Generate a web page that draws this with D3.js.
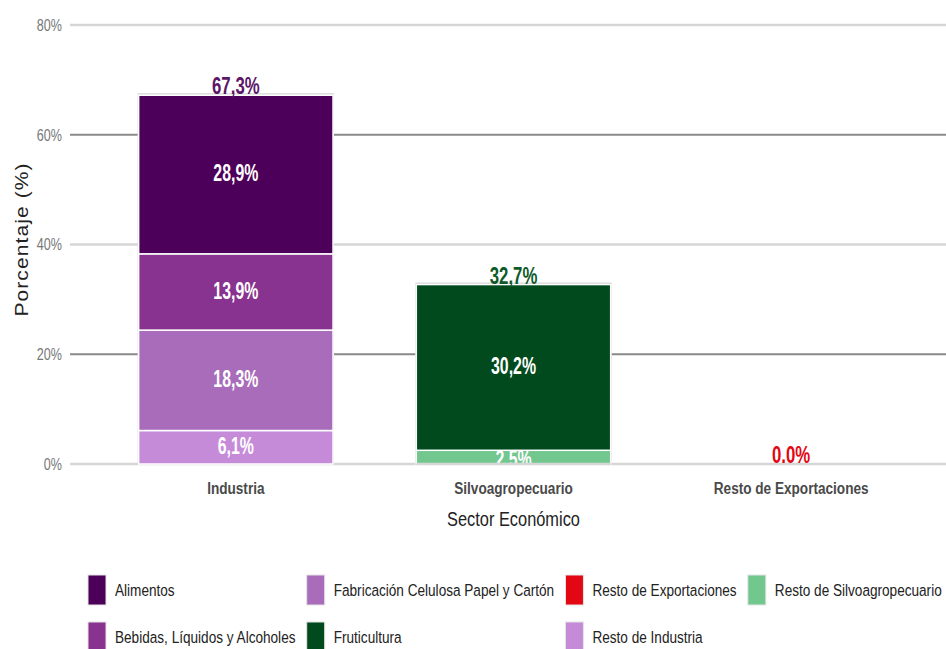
<!DOCTYPE html>
<html>
<head>
<meta charset="utf-8">
<script src="https://cdn.jsdelivr.net/npm/d3@7"></script>
<style>
	body { margin: 0; background: #fff; }
	svg { display: block; font-family: 'Liberation Sans', Arial, sans-serif; }
</style>
</head>
<body>
<div id="chart"></div>
<script>
// datos
const sectores = ['Industria', 'Silvoagropecuario', 'Resto de Exportaciones'];
const subsectores = ['Alimentos', 'Bebidas, Líquidos y Alcoholes', 'Fabricación Celulosa Papel y Cartón',
	'Fruticultura', 'Resto de Exportaciones', 'Resto de Industria', 'Resto de Silvoagropecuario'];
// orden de apilado (de abajo hacia arriba) por sector
const pilaIndustria = ['Resto de Industria', 'Fabricación Celulosa Papel y Cartón', 'Bebidas, Líquidos y Alcoholes', 'Alimentos'];
const valoresIndustria = [6.1, 18.3, 13.9, 28.9];
const pilaSilvo = ['Resto de Silvoagropecuario', 'Fruticultura'];
const valoresSilvo = [2.5, 30.2];
const pilaResto = ['Resto de Exportaciones'];
const valoresResto = [0.0];
const totales = [67.3, 32.7, 0.0];
const etiquetasTotales = ['67,3%', '32,7%', '0.0%'];
const yTicks = [0, 20, 40, 60, 80];

const colores = {
	'Alimentos': '#4d005a',
	'Bebidas, Líquidos y Alcoholes': '#87338f',
	'Fabricación Celulosa Papel y Cartón': '#a86cba',
	'Fruticultura': '#004a1d',
	'Resto de Exportaciones': '#e30613',
	'Resto de Industria': '#c58bd9',
	'Resto de Silvoagropecuario': '#72c78f'
};
const coloresTotales = ['#5b1768', '#0f5a2a', '#e30613'];

const width = 946, height = 649;

const svg = d3.select('#chart').append('svg')
	.attr('width', width).attr('height', height);

// el gráfico original usa letra angosta: se comprime cada texto a lo ancho
function angosto(sel, k) {
	sel.each(function () {
		const t = d3.select(this);
		const px = +t.attr('x') || 0, py = +t.attr('y') || 0;
		t.attr('x', 0).attr('y', 0)
			.attr('transform', `translate(${px}, ${py}) scale(${k}, 1)`);
	});
	return sel;
}

const x = d3.scaleBand()
	.domain(sectores)
	.range([97, 930])
	.paddingInner(0.3)
	.paddingOuter(0.15);

const y = d3.scaleLinear()
	.domain([0, 80])
	.range([464, 25]);

// grilla
svg.append('g').selectAll('line')
	.data(yTicks)
	.join('line')
	.attr('x1', 70).attr('x2', width)
	.attr('y1', d => y(d)).attr('y2', d => y(d))
	.attr('stroke', d => (d === 20 || d === 60) ? '#8a8a8a' : '#d6d6d6')
	.attr('stroke-width', d => (d === 20 || d === 60) ? 2 : 2.5);

// eje y
svg.append('g').selectAll('text')
	.data(yTicks)
	.join('text')
	.attr('x', 62).attr('y', d => y(d))
	.attr('dy', '0.35em')
	.attr('text-anchor', 'end')
	.attr('font-size', 17)
	.attr('fill', '#777')
	.text(d => d + '%')
	.call(angosto, 0.74);

svg.append('text')
	.attr('transform', `translate(28, ${y(40) - 5}) rotate(-90) scale(1, 0.85)`)
	.attr('text-anchor', 'middle')
	.attr('font-size', 21)
	.attr('letter-spacing', 1.1)
	.attr('fill', '#222')
	.text('Porcentaje (%)');

// barras
const pilas = [
	{ sector: sectores[0], claves: pilaIndustria, valores: valoresIndustria },
	{ sector: sectores[1], claves: pilaSilvo, valores: valoresSilvo },
	{ sector: sectores[2], claves: pilaResto, valores: valoresResto }
];

const barras = svg.append('g');
pilas.forEach((p, i) => {
	let acumulado = 0;
	const segmentos = p.claves.map((k, j) => {
		const s = { clave: k, v0: acumulado, v1: acumulado + p.valores[j], valor: p.valores[j] };
		acumulado += p.valores[j];
		return s;
	});
	const g = barras.append('g');
	if (acumulado > 0) {
		g.append('rect')
			.attr('x', x(p.sector) - 1)
			.attr('y', y(acumulado) - 2)
			.attr('width', x.bandwidth() + 2)
			.attr('height', y(0) - y(acumulado) + 2)
			.attr('fill', '#d6d6d6');
	}
	g.selectAll('rect.seg')
		.data(segmentos.filter(s => s.valor > 0))
		.join('rect')
		.attr('class', 'seg')
		.attr('x', x(p.sector))
		.attr('y', s => y(s.v1))
		.attr('width', x.bandwidth())
		.attr('height', s => y(s.v0) - y(s.v1))
		.attr('fill', s => colores[s.clave])
		.attr('stroke', '#fff')
		.attr('stroke-width', 1.5);
	g.selectAll('text.seg')
		.data(segmentos.filter(s => s.valor > 0))
		.join('text')
		.attr('class', 'seg')
		.attr('x', x(p.sector) + x.bandwidth() / 2)
		.attr('y', s => s.valor < 4 ? y(s.v0) + 3 : (y(s.v0) + y(s.v1)) / 2)
		.attr('dy', s => s.valor < 4 ? '0' : '0.3em')
		.attr('text-anchor', 'middle')
		.attr('font-size', 23)
		.attr('font-weight', 'bold')
		.attr('fill', '#fff')
		.text(s => s.valor.toFixed(1).replace('.', ',') + '%')
		.call(angosto, 0.69);

	g.append('text')
		.attr('x', x(p.sector) + x.bandwidth() / 2)
		.attr('y', y(totales[i]) - 1)
		.attr('text-anchor', 'middle')
		.attr('font-size', 24)
		.attr('font-weight', 'bold')
		.attr('fill', coloresTotales[i])
		.text(etiquetasTotales[i])
		.call(angosto, 0.7);
});

// la etiqueta 2,5% queda cortada por el eje
svg.append('rect')
	.attr('x', x(sectores[1])).attr('y', y(0) + 1)
	.attr('width', x.bandwidth()).attr('height', 10)
	.attr('fill', '#fff');
svg.append('line')
	.attr('x1', x(sectores[1])).attr('x2', x(sectores[1]) + x.bandwidth())
	.attr('y1', y(0)).attr('y2', y(0))
	.attr('stroke', '#d6d6d6').attr('stroke-width', 2.5);

// eje x
svg.append('g').selectAll('text')
	.data(sectores)
	.join('text')
	.attr('x', d => x(d) + x.bandwidth() / 2)
	.attr('y', 494)
	.attr('text-anchor', 'middle')
	.attr('font-size', 17)
	.attr('font-weight', 'bold')
	.attr('fill', '#4a4a4a')
	.text(d => d)
	.call(angosto, 0.8);

svg.append('text')
	.attr('x', x(sectores[1]) + x.bandwidth() / 2)
	.attr('y', 526)
	.attr('text-anchor', 'middle')
	.attr('font-size', 21)
	.attr('fill', '#222')
	.text('Sector Económico')
	.call(angosto, 0.78);

// leyenda, llenado por columnas en dos filas
const kLeyenda = 0.8;
const leyenda = svg.append('g');
const filasY = [590, 637];
let colX = 88;
for (let c = 0; c * 2 < subsectores.length; c++) {
	const items = subsectores.slice(c * 2, c * 2 + 2);
	let maxAncho = 0;
	items.forEach((k, r) => {
		const it = leyenda.append('g').attr('transform', `translate(${colX}, ${filasY[r]})`);
		it.append('rect')
			.attr('x', 0).attr('y', -15)
			.attr('width', 18).attr('height', 30)
			.attr('fill', colores[k])
			.attr('stroke', '#e4e4e4').attr('stroke-width', 1);
		const t = it.append('text')
			.attr('x', 27)
			.attr('dy', '0.35em')
			.attr('font-size', 17)
			.attr('fill', '#222')
			.text(k);
		maxAncho = Math.max(maxAncho, t.node().getComputedTextLength() * kLeyenda);
		t.call(angosto, kLeyenda);
	});
	colX += 27 + maxAncho + 11;
}
</script>
</body>
</html>
